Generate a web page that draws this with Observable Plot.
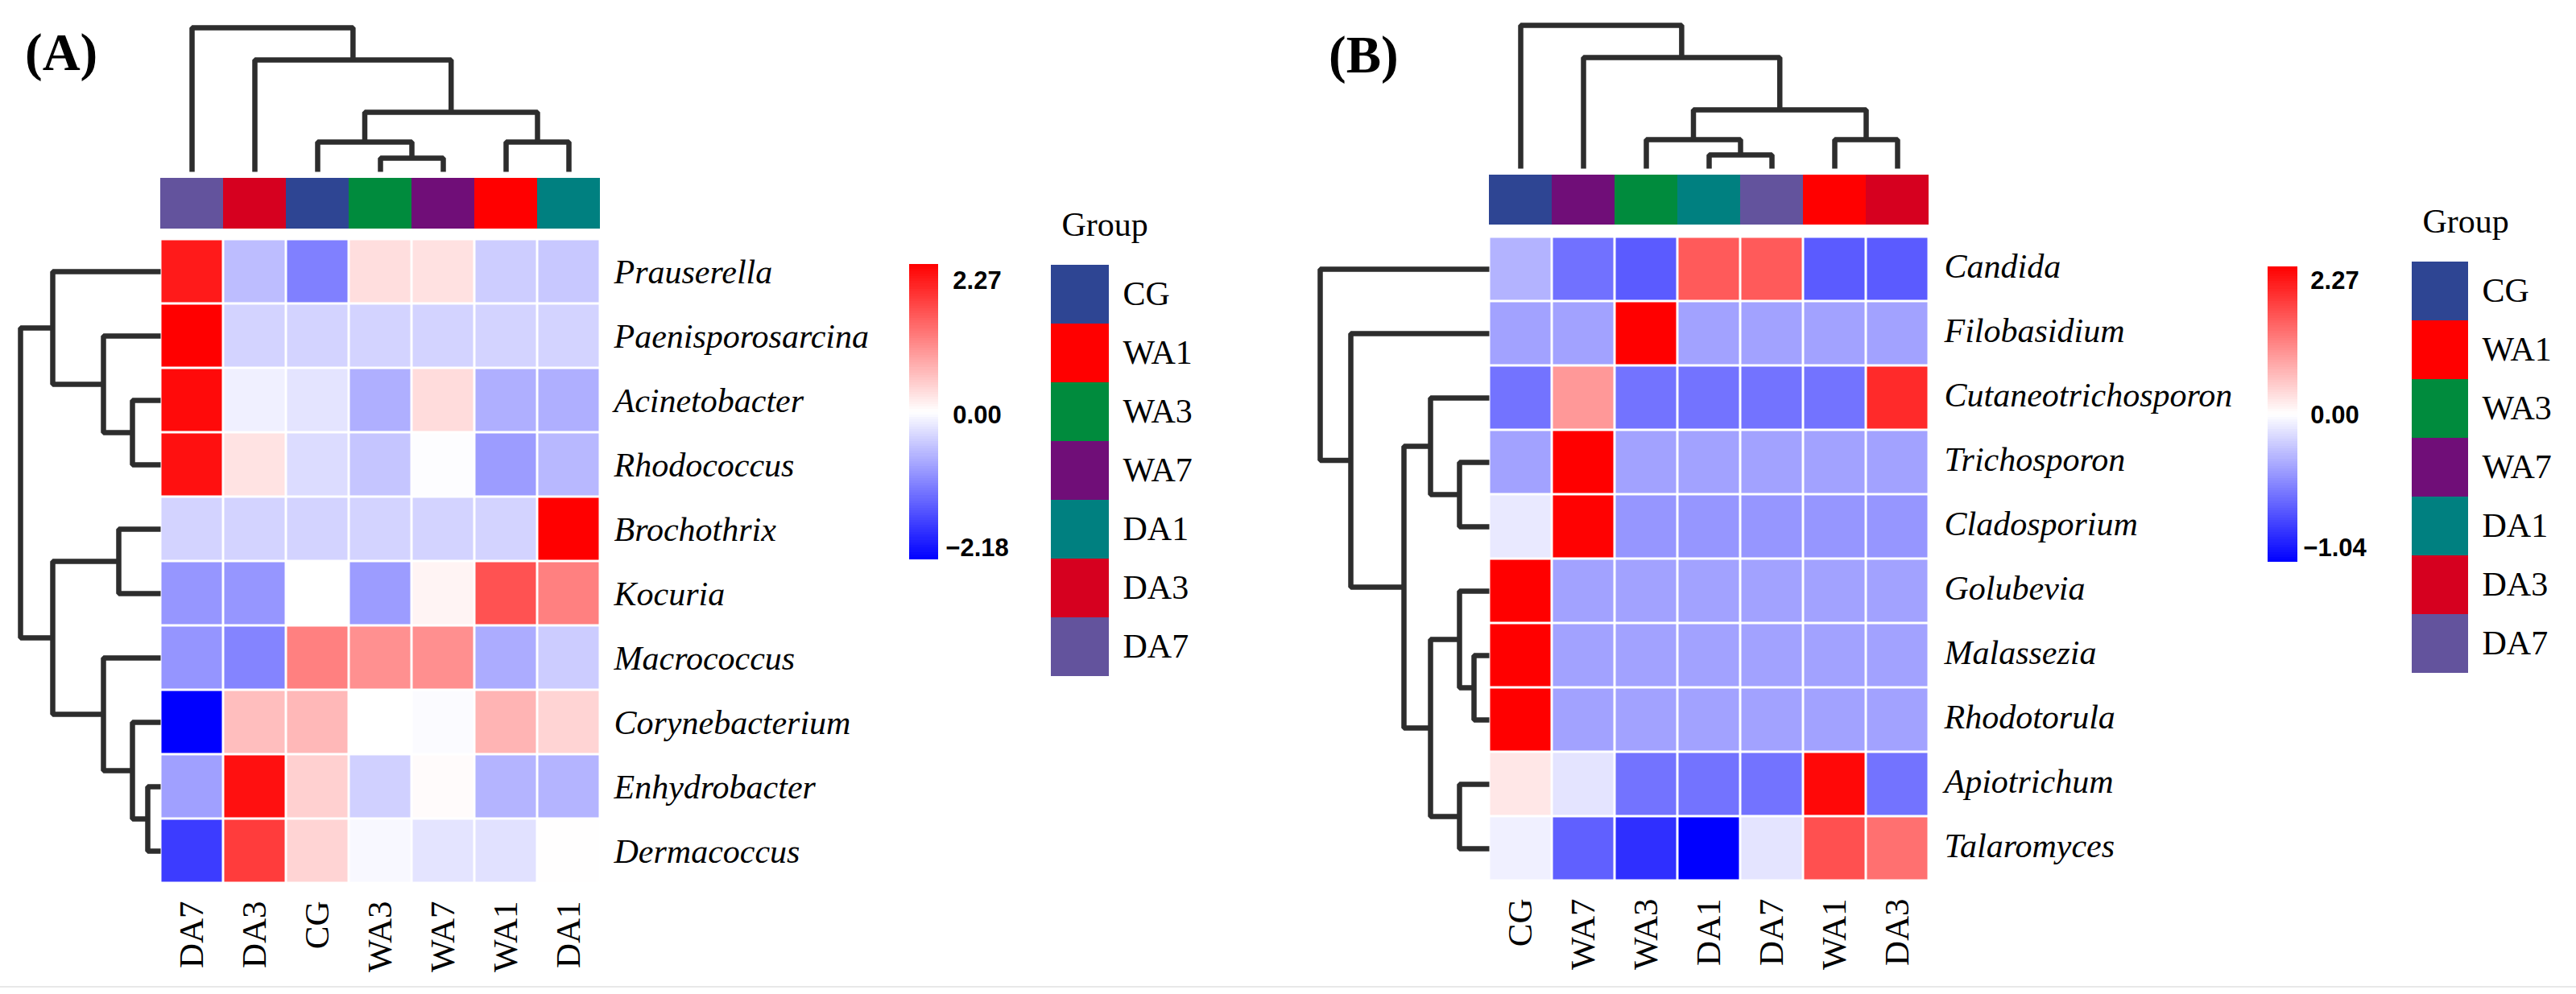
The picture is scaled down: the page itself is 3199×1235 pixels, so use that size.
<!DOCTYPE html>
<html>
<head>
<meta charset="utf-8">
<script src="https://cdn.jsdelivr.net/npm/d3@7"></script>
<script src="https://cdn.jsdelivr.net/npm/@observablehq/plot@0.6"></script>
<style>
  html, body { margin: 0; padding: 0; background: #fff; overflow: hidden; }
  #chart { position: relative; width: 3199px; height: 1235px; background: #fff; }
  #chart svg { position: absolute; }
  .tag { position: absolute; font: bold 65px/1 "Liberation Serif", "Times New Roman", serif; color: #000; white-space: nowrap; }
  .baseline { position: absolute; left: 0; top: 1225px; width: 3199px; height: 2px; background: #e8e8e8; }
</style>
</head>
<body>
<div id="chart"></div>
<script>
// ---------------- DATA ----------------
// Panel A (bacteria) — columns in dendrogram order
const colsA = ["DA7", "DA3", "CG", "WA3", "WA7", "WA1", "DA1"];
const rowsA = ["Prauserella", "Paenisporosarcina", "Acinetobacter", "Rhodococcus", "Brochothrix",
               "Kocuria", "Macrococcus", "Corynebacterium", "Enhydrobacter", "Dermacoccus"];
// row-scaled z-scores (rows x columns)
const valuesA = [
  [ 2.04, -0.56, -1.09,  0.29,  0.27, -0.43, -0.47],
  [ 2.27, -0.38, -0.38, -0.38, -0.38, -0.38, -0.38],
  [ 2.18, -0.13, -0.23, -0.68,  0.31, -0.68, -0.68],
  [ 2.13,  0.25, -0.30, -0.50, -0.02, -0.85, -0.61],
  [-0.38, -0.38, -0.38, -0.38, -0.38, -0.38,  2.27],
  [-0.90, -0.90,  0.00, -0.85,  0.10,  1.54,  1.13],
  [-0.91, -1.05,  1.13,  0.99,  1.00, -0.71, -0.44],
  [-2.18,  0.58,  0.63,  0.00, -0.03,  0.67,  0.38],
  [-0.81,  2.13,  0.42, -0.40,  0.04, -0.64, -0.64],
  [-1.67,  1.74,  0.38, -0.06, -0.23, -0.26,  0.01]
];
// hclust-style merges: negative = leaf (1-based, display order), positive = earlier merge; [a, b, height]
const colMergeA = [[-4, -5, 17], [-3, 1, 37], [-6, -7, 37], [2, 3, 74], [-2, 4, 139], [-1, 5, 179]];
const rowMergeA = [[-9, -10, 16], [-8, 1, 35], [-3, -4, 35], [-5, -6, 52], [-7, 2, 71],
                   [-2, 3, 71], [4, 5, 134], [-1, 6, 134], [8, 7, 174]];
const rangeA = [-2.18, 2.27];
const legendLabelsA = ["2.27", "0.00", "\u22122.18"];

// Panel B (fungi)
const colsB = ["CG", "WA7", "WA3", "DA1", "DA7", "WA1", "DA3"];
const rowsB = ["Candida", "Filobasidium", "Cutaneotrichosporon", "Trichosporon", "Cladosporium",
               "Golubevia", "Malassezia", "Rhodotorula", "Apiotrichum", "Talaromyces"];
const valuesB = [
  [-0.31, -0.58, -0.67,  1.47,  1.47, -0.67, -0.67],
  [-0.38, -0.38,  2.27, -0.38, -0.38, -0.38, -0.38],
  [-0.57,  0.92, -0.57, -0.57, -0.57, -0.57,  1.90],
  [-0.38,  2.27, -0.38, -0.38, -0.38, -0.38, -0.38],
  [-0.09,  2.25, -0.43, -0.43, -0.43, -0.43, -0.43],
  [ 2.27, -0.38, -0.38, -0.38, -0.38, -0.38, -0.38],
  [ 2.27, -0.38, -0.38, -0.38, -0.38, -0.38, -0.38],
  [ 2.27, -0.38, -0.38, -0.38, -0.38, -0.38, -0.38],
  [ 0.21, -0.11, -0.57, -0.57, -0.57,  2.20, -0.57],
  [-0.06, -0.65, -0.85, -1.04, -0.11,  1.56,  1.27]
];
const colMergeB = [[-4, -5, 17], [-3, 1, 36], [-6, -7, 36], [2, 3, 73], [-2, 4, 138], [-1, 5, 178]];
const rowMergeB = [[-7, -8, 19], [-4, -5, 37], [-6, 1, 37], [-9, -10, 37], [-3, 2, 73],
                   [3, 4, 73], [5, 6, 106], [-2, 7, 172], [-1, 8, 210]];
const rangeB = [-1.04, 2.27];
const legendLabelsB = ["2.27", "0.00", "\u22121.04"];

// Group annotation
const groupOrder  = ["CG", "WA1", "WA3", "WA7", "DA1", "DA3", "DA7"];
const groupColors = ["#2E4593", "#FF0000", "#008B3D", "#700E78", "#008080", "#D6001F", "#63539D"];

// ---------------- LAYOUT ----------------
const SERIF = '"Liberation Serif", "Times New Roman", serif';
const SANS = '"Liberation Sans", Arial, sans-serif';
const LINE = "#2d2d2d";
const LW = 6.5;
const baseStyle = {background: "none", overflow: "visible", maxWidth: "none"};
const chart = document.getElementById("chart");

function place(svg, left, top) {
  svg.style.position = "absolute";
  svg.style.left = left + "px";
  svg.style.top = top + "px";
  chart.appendChild(svg);
}

function groupColor(g) { return groupColors[groupOrder.indexOf(g)]; }

function dendroPoints(merges) {
  const nodes = [];
  const get = id => id < 0 ? {p: -id - 0.5, h: 0} : nodes[id - 1];
  const pts = [];
  merges.forEach(([a, b, h], k) => {
    const A = get(a), B = get(b);
    pts.push({id: k, p: A.p, h: A.h}, {id: k, p: A.p, h}, {id: k, p: B.p, h}, {id: k, p: B.p, h: B.h});
    nodes.push({p: (A.p + B.p) / 2, h});
  });
  return pts;
}

function colorScale(range) {
  return {type: "linear", domain: [range[0], 0, range[1]], range: ["#0000ff", "#ffffff", "#ff0000"], interpolate: "rgb"};
}

function drawPanel(c) {
  const W = c.hm.w, H = c.hm.h;
  const cells = c.rows.flatMap((r, i) => c.cols.map((col, j) => ({row: r, col, value: c.values[i][j]})));

  // heatmap with row/column labels
  place(Plot.plot({
    width: W + 420, height: H + 140,
    marginLeft: 0, marginTop: 0, marginRight: 420, marginBottom: 140,
    style: baseStyle,
    x: {domain: c.cols, padding: 0, label: null},
    y: {domain: c.rows, padding: 0, label: null},
    color: colorScale(c.range),
    marks: [
      Plot.cell(cells, {x: "col", y: "row", fill: "value", inset: 1.5}),
      Plot.axisY({anchor: "right", label: null, tickSize: 0, tickPadding: c.rowLabelGap, fontSize: 42,
                  fontFamily: SERIF, fontStyle: "italic", fill: "#000", dy: c.rowLabelDy}),
      Plot.axisX({anchor: "bottom", label: null, tickSize: 0, tickPadding: c.colLabelGap, tickRotate: -90,
                  fontSize: 43, fontFamily: SERIF, fill: "#000"})
    ]
  }), c.hm.left, c.hm.top);

  // group annotation bar
  place(Plot.plot({
    width: W, height: c.ann.h, margin: 0, style: baseStyle,
    x: {domain: c.cols, padding: 0, axis: null},
    color: {type: "identity"},
    marks: [Plot.cell(c.cols, {x: d => d, fill: d => groupColor(d)})]
  }), c.hm.left, c.ann.top);

  // column dendrogram (top)
  const colMax = c.colMerge[c.colMerge.length - 1][2];
  place(Plot.plot({
    width: W, height: (c.top.leafY - c.top.rootY) + 8,
    marginTop: 4, marginBottom: 4, marginLeft: 0, marginRight: 0, style: baseStyle,
    x: {domain: [0, c.cols.length], axis: null},
    y: {domain: [0, colMax], axis: null},
    marks: [Plot.line(dendroPoints(c.colMerge), {x: "p", y: "h", z: "id", stroke: LINE, strokeWidth: LW,
            strokeLinejoin: "miter", strokeLinecap: "butt"})]
  }), c.hm.left, c.top.rootY - 4);

  // row dendrogram (left)
  const rowMax = c.rowMerge[c.rowMerge.length - 1][2];
  place(Plot.plot({
    width: (c.hm.left - c.left.rootX) + 4, height: H,
    marginLeft: 4, marginRight: 0, marginTop: 0, marginBottom: 0, style: baseStyle,
    x: {domain: [rowMax, 0], axis: null},
    y: {domain: [0, c.rows.length], reverse: true, axis: null},
    marks: [Plot.line(dendroPoints(c.rowMerge), {x: "h", y: "p", z: "id", stroke: LINE, strokeWidth: LW,
            strokeLinejoin: "miter", strokeLinecap: "butt"})]
  }), c.left.rootX - 4, c.hm.top);

  // colour bar legend
  const N = 120, mn = c.range[0], mx = c.range[1];
  const steps = d3.range(N).map(i => {
    const t0 = -1 + 2 * i / N, t1 = -1 + 2 * (i + 1) / N, tm = (t0 + t1) / 2;
    return {t0, t1: Math.min(1, t1 + 0.004), v: tm < 0 ? tm * -mn : tm * mx};
  });
  const lab = (t, s, dy) => Plot.text([{t, s}], {x: 1, y: "t", text: "s", dx: c.cbar.labelDx, dy,
    textAnchor: "middle", fontSize: 31, fontWeight: "bold", fontFamily: SANS, fill: "#000"});
  place(Plot.plot({
    width: c.cbar.w + 130, height: c.cbar.h, margin: 0, marginRight: 130, style: baseStyle,
    x: {domain: [0, 1], axis: null},
    y: {domain: [-1, 1], axis: null},
    color: colorScale(c.range),
    marks: [
      Plot.rect(steps, {x1: 0, x2: 1, y1: "t0", y2: "t1", fill: "v", shapeRendering: "crispEdges"}),
      lab(1, c.legendLabels[0], c.cbar.dy[0]),
      lab(0, c.legendLabels[1], c.cbar.dy[1]),
      lab(-1, c.legendLabels[2], c.cbar.dy[2])
    ]
  }), c.cbar.left, c.cbar.top);

  // group legend
  place(Plot.plot({
    width: c.group.w + 200, height: 70 + c.group.step * groupOrder.length,
    marginTop: 70, marginLeft: 0, marginRight: 200, marginBottom: 0, style: baseStyle,
    x: {domain: ["g"], padding: 0, axis: null},
    y: {domain: groupOrder, padding: 0, label: null},
    color: {type: "identity"},
    marks: [
      Plot.cell(groupOrder, {x: () => "g", y: d => d, fill: d => groupColor(d)}),
      Plot.axisY({anchor: "right", label: null, tickSize: 0, tickPadding: 17, fontSize: 42, fontFamily: SERIF, fill: "#000"}),
      Plot.text(["Group"], {text: d => d, frameAnchor: "top-left", dx: 13, dy: -37, textAnchor: "start",
                lineAnchor: "bottom", fontSize: 42, fontFamily: SERIF, fill: "#000"})
    ]
  }), c.group.left, c.group.top - 70);

  // panel tag
  const tag = document.createElement("div");
  tag.className = "tag";
  tag.textContent = c.tag.text;
  tag.style.left = c.tag.left + "px";
  tag.style.top = (c.tag.baseline - 0.8375 * 65) + "px";
  chart.appendChild(tag);
}

drawPanel({
  cols: colsA, rows: rowsA, values: valuesA, colMerge: colMergeA, rowMerge: rowMergeA,
  range: rangeA, legendLabels: legendLabelsA,
  hm: {left: 199, top: 297, w: 546, h: 800},
  ann: {top: 221, h: 63},
  top: {rootY: 34, leafY: 213},
  left: {rootX: 25},
  rowLabelGap: 17, rowLabelDy: 1, colLabelGap: 22,
  cbar: {left: 1129, top: 328, w: 36, h: 367, labelDx: 48, dy: [21, 4.5, -14]},
  group: {left: 1305, top: 329, w: 72, step: 73},
  tag: {text: "(A)", left: 31, baseline: 87}
});

drawPanel({
  cols: colsB, rows: rowsB, values: valuesB, colMerge: colMergeB, rowMerge: rowMergeB,
  range: rangeB, legendLabels: legendLabelsB,
  hm: {left: 1849, top: 294, w: 546, h: 800},
  ann: {top: 217, h: 62},
  top: {rootY: 31, leafY: 209},
  left: {rootX: 1639},
  rowLabelGap: 19, rowLabelDy: -3, colLabelGap: 22,
  cbar: {left: 2816, top: 331, w: 37, h: 367, labelDx: 46, dy: [18, 1.5, -17]},
  group: {left: 2995, top: 325, w: 70, step: 73},
  tag: {text: "(B)", left: 1650, baseline: 90}
});

const bl = document.createElement("div");
bl.className = "baseline";
chart.appendChild(bl);
</script>
</body>
</html>
